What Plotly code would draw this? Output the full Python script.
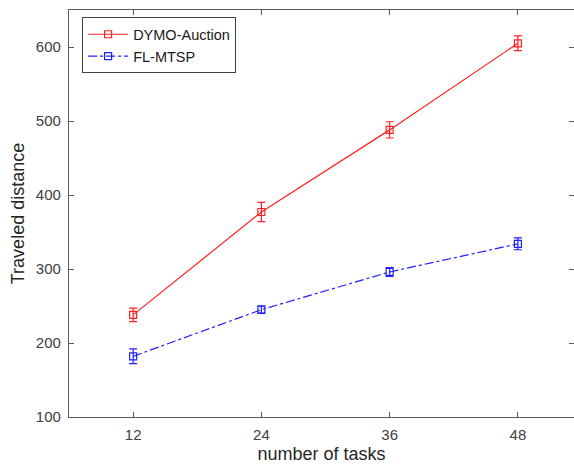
import plotly.graph_objects as go

# Number of tasks on the x axis
tasks = [12, 24, 36, 48]

# Mean travelled distance and error half-widths per method
dymo_auction = [238, 377, 488, 605]
dymo_err = [9, 13, 11, 10]
fl_mtsp = [182, 245, 296, 334]
fl_err = [10, 5, 6, 8]

x_ticks = [12, 24, 36, 48]
y_ticks = [100, 200, 300, 400, 500, 600]

FONT = "Liberation Sans, Arial, sans-serif"
AXIS_COLOR = "#5a5a5a"
TEXT_COLOR = "#404040"

fig = go.Figure()

fig.add_trace(go.Scatter(
    x=tasks, y=dymo_auction, name="DYMO-Auction",
    mode="lines+markers",
    line=dict(color="#ff2020", width=1.2, dash="solid"),
    marker=dict(symbol="square-open", size=7, color="#ff2020", line=dict(width=1.2)),
    error_y=dict(type="data", array=dymo_err, visible=True,
                 color="#ff2020", thickness=1.2, width=4),
))

fig.add_trace(go.Scatter(
    x=tasks, y=fl_mtsp, name="FL-MTSP",
    mode="lines+markers",
    line=dict(color="#2020ff", width=1.2, dash="dashdot"),
    marker=dict(symbol="square-open", size=7, color="#2020ff", line=dict(width=1.2)),
    error_y=dict(type="data", array=fl_err, visible=True,
                 color="#2020ff", thickness=1.2, width=4),
))

fig.update_layout(
    width=574, height=465,
    margin=dict(l=69, r=0, t=10, b=48),
    paper_bgcolor="white", plot_bgcolor="white",
    font=dict(family=FONT, size=15, color=TEXT_COLOR),
    showlegend=True,
    legend=dict(
        x=0.026, y=0.982, xanchor="left", yanchor="top",
        bgcolor="white", bordercolor="#404040", borderwidth=1,
        font=dict(family=FONT, size=14.5, color="#1a1a1a"),
        tracegroupgap=0, itemwidth=40,
    ),
)

fig.update_xaxes(
    range=[6, 53.25], tickvals=x_ticks, ticktext=[str(v) for v in x_ticks],
    showgrid=False, zeroline=False,
    showline=True, linecolor=AXIS_COLOR, linewidth=1.2, mirror="ticks",
    ticks="inside", ticklen=5, tickcolor=AXIS_COLOR, tickwidth=1,
    tickfont=dict(family=FONT, size=15, color=TEXT_COLOR),
    ticklabelstandoff=4,
    title=dict(text="number of tasks", font=dict(family=FONT, size=18, color="#262626"),
               standoff=5),
)

fig.update_yaxes(
    range=[100, 650], tickvals=y_ticks, ticktext=[str(v) for v in y_ticks],
    showgrid=False, zeroline=False,
    showline=True, linecolor=AXIS_COLOR, linewidth=1.2, mirror="ticks",
    ticks="inside", ticklen=5, tickcolor=AXIS_COLOR, tickwidth=1,
    tickfont=dict(family=FONT, size=15, color=TEXT_COLOR),
    ticklabelstandoff=4,
    title=dict(text="Traveled distance", font=dict(family=FONT, size=18, color="#262626"),
               standoff=6),
)

fig.write_html("out.html")
